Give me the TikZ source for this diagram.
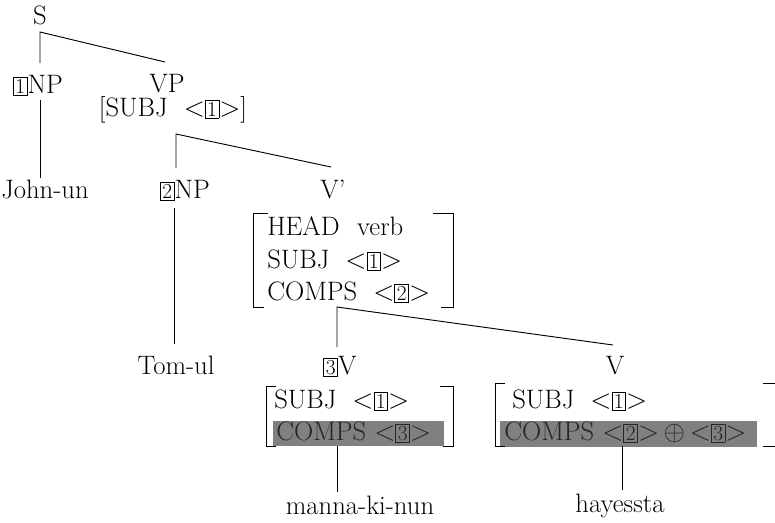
\documentclass[tikz,border=0pt]{standalone}
\newcommand{\tagbox}[1]{{\setlength{\fboxsep}{1.2pt}\setlength{\fboxrule}{0.6pt}\fbox{\fontsize{16}{16}\selectfont #1}}}
\begin{document}
\begin{tikzpicture}[x=0.75pt,y=-0.75pt,
  lbl/.style={anchor=base,inner sep=0pt,font=\fontsize{20}{23}\selectfont},
  row/.style={anchor=base west,inner sep=0pt,font=\fontsize{20}{23}\selectfont},
  shrow/.style={anchor=base west,inner sep=0pt,text=black!85,font=\fontsize{20}{23}\selectfont},
  branch/.style={line width=0.7pt},
  brk/.style={line width=0.7pt},
  shade/.style={fill=black!50,draw=none}]
\useasboundingbox (0,0) rectangle (775,522);
% labels
\node[lbl] (S) at (40,24) {S};
\node[lbl] (NP1) at (38,93) {\tagbox{1}NP};
\node[lbl] (VP) at (167,92) {VP};
\node[lbl] (VPf) at (173,116) {[SUBJ\ \ $<$\tagbox{1}$>$]};
\node[lbl] (john) at (45,198) {John-un};
\node[lbl] (NP2) at (185,198) {\tagbox{2}NP};
\node[lbl] (Vbar) at (333,198) {V'};
\node[lbl] (tom) at (176,374) {Tom-ul};
\node[lbl] (V3) at (340,374) {\tagbox{3}V};
\node[lbl] (V) at (615,374) {V};
\node[lbl] (manna) at (360,514) {manna-ki-nun};
\node[lbl] (haye) at (620,512) {hayessta};
% V' AVM
\node[row] (h1) at (267,235) {HEAD\hspace{13pt}verb};
\node[row] (h2) at (267,268) {SUBJ\ \ $<$\tagbox{1}$>$};
\node[row] (h3) at (267,300) {COMPS\ \ $<$\tagbox{2}$>$};
\draw[brk] (268,213) -- (253,213) -- (253,307) -- (264,307);
\draw[brk] (433,213) -- (453,213) -- (453,307) -- (441,307);
% lower left AVM
\node[row] (a1) at (274,408) {SUBJ\ \ $<$\tagbox{1}$>$};
\fill[shade] (273,421) rectangle (444,446);
\node[shrow] (a2) at (276,440) {COMPS $<$\tagbox{3}$>$};
\draw[brk] (276,386) -- (266,386) -- (266,446) -- (276,446);
\draw[brk] (440,386) -- (453,386) -- (453,446) -- (443,446);
% lower right AVM
\node[row] (b1) at (512,408) {SUBJ\ \ $<$\tagbox{1}$>$};
\fill[shade] (500,421) rectangle (757,447);
\node[shrow] (b2) at (504,440) {COMPS $<$\tagbox{2}$>$$\,\oplus\,$$<$\tagbox{3}$>$};
\draw[brk] (505,383) -- (495,383) -- (495,446) -- (505,446);
\draw[brk] (763,383) -- (775,383);
\draw[brk] (763,446) -- (775,446);
% tree branches
\coordinate (jS) at (40,32);
\coordinate (eNP1) at (40,63);
\coordinate (eVP) at (165,62);
\coordinate (sNP1) at (40,100);
\coordinate (eJohn) at (40,178);
\coordinate (jVP) at (176,134);
\coordinate (eNP2) at (176,168);
\coordinate (eVbar) at (331,167);
\coordinate (sNP2) at (174,208);
\coordinate (eTom) at (174,344);
\coordinate (jVbar) at (337,307);
\coordinate (eV3) at (337,347);
\coordinate (eV) at (613,345);
\coordinate (sA) at (337,446);
\coordinate (eManna) at (337,492);
\coordinate (sB) at (622,446);
\coordinate (eHaye) at (622,490);
\draw[branch] (eNP1) -- (jS) -- (eVP);
\draw[branch] (sNP1) -- (eJohn);
\draw[branch] (eNP2) -- (jVP) -- (eVbar);
\draw[branch] (sNP2) -- (eTom);
\draw[branch] (eV3) -- (jVbar) -- (eV);
\draw[branch] (sA) -- (eManna);
\draw[branch] (sB) -- (eHaye);
\end{tikzpicture}
\end{document}
